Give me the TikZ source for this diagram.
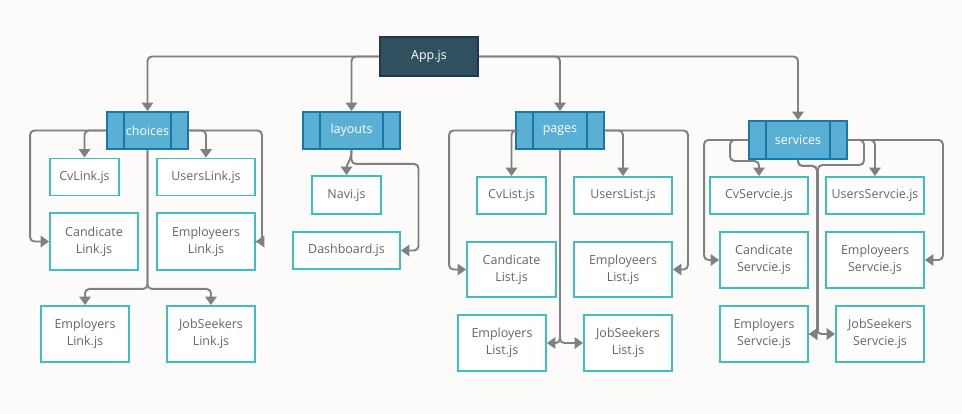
\documentclass[tikz,border=0pt]{standalone}
\usepackage{fontspec}
\setmainfont{Open Sans}
\usetikzlibrary{arrows.meta,positioning,calc}
\definecolor{bgpaper}{HTML}{FCFBF9}
\definecolor{appfill}{HTML}{30505F}
\definecolor{appline}{HTML}{1E3A4A}
\definecolor{catfill}{HTML}{5AAFD5}
\definecolor{catline}{HTML}{1A78A8}
\definecolor{leafline}{HTML}{3DBFBF}
\definecolor{textgray}{HTML}{666666}
\definecolor{wiregray}{HTML}{808080}
\newcommand{\unitpx}{*0.2mm}
\tikzset{leaf/.style={draw=leafline,fill=white,line width=1.1pt,align=center,text=textgray,font=\fontsize{7.1}{9.5}\selectfont,inner sep=0pt,minimum height=37\unitpx}, app/.style={leaf,draw=appline,fill=appfill,text=white,minimum width=98\unitpx,minimum height=39\unitpx}, folder/.style={leaf,draw=catline,fill=catfill,text=white,minimum height=37\unitpx}, divider/.style={draw=catline,line width=1.1pt}, flow/.style={-{Triangle[length=1.7mm,width=2.3mm]},line width=1.1pt,draw=wiregray,rounded corners=2.5pt}}
\begin{document}
\begin{tikzpicture}[x=0.2mm,y=-0.2mm]
\useasboundingbox[fill=bgpaper] (0,0) rectangle (962,414);
% root and folders
\node[app] (app) at (429,56.5) {App.js};
\node[folder,minimum width=81\unitpx] (choices) at (147.5,130.5) {choices};
\node[folder,minimum width=97\unitpx] (layouts) at (351.5,130.5) {layouts};
\node[folder,minimum width=88\unitpx] (pages) at (560,130.5) {pages};
\node[folder,minimum width=98\unitpx,minimum height=38\unitpx] (services) at (798,140) {services};
\foreach \f in {choices,layouts,pages,services}{
  \draw[divider] ([xshift=3.6mm]\f.north west) -- ([xshift=3.6mm]\f.south west);
  \draw[divider] ([xshift=-3.6mm]\f.north east) -- ([xshift=-3.6mm]\f.south east);
}
% choices
\node[leaf,minimum width=69\unitpx] (cvlink) at (84.5,177) {CvLink.js};
\node[leaf,minimum width=98\unitpx] (userslink) at (206,177) {UsersLink.js};
\node[leaf,minimum width=88\unitpx,minimum height=57\unitpx] (candlink) at (94,241.5) {Candicate\\Link.js};
\node[leaf,minimum width=98\unitpx,minimum height=57\unitpx] (emplink) at (206,241.5) {Employeers\\Link.js};
\node[leaf,minimum width=88\unitpx,minimum height=56\unitpx] (empllink) at (85,334) {Employers\\Link.js};
\node[leaf,minimum width=88\unitpx,minimum height=56\unitpx] (jobslink) at (211,334) {JobSeekers\\Link.js};
% layouts
\node[leaf,minimum width=69\unitpx,minimum height=38\unitpx] (navi) at (346.5,195) {Navi.js};
\node[leaf,minimum width=107\unitpx] (dash) at (346.5,250.5) {Dashboard.js};
% pages
\node[leaf,minimum width=69\unitpx] (cvlist) at (511.5,195.5) {CvList.js};
\node[leaf,minimum width=98\unitpx] (userslist) at (623,195.5) {UsersList.js};
\node[leaf,minimum width=89\unitpx,minimum height=55\unitpx] (candlist) at (511.5,269.5) {Candicate\\List.js};
\node[leaf,minimum width=98\unitpx,minimum height=55\unitpx] (emplist) at (623,269.5) {Employeers\\List.js};
\node[leaf,minimum width=88\unitpx,minimum height=56\unitpx] (empllist) at (502,343) {Employers\\List.js};
\node[leaf,minimum width=88\unitpx,minimum height=56\unitpx] (jobslist) at (628,343) {JobSeekers\\List.js};
% services
\node[leaf,minimum width=98\unitpx] (cvserv) at (759,195.5) {CvServcie.js};
\node[leaf,minimum width=98\unitpx] (usersserv) at (875,195.5) {UsersServcie.js};
\node[leaf,minimum width=88\unitpx,minimum height=56\unitpx] (candserv) at (764,260) {Candicate\\Servcie.js};
\node[leaf,minimum width=98\unitpx,minimum height=56\unitpx] (empserv) at (875,260) {Employeers\\Servcie.js};
\node[leaf,minimum width=88\unitpx,minimum height=56\unitpx] (emplserv) at (764,334) {Employers\\Servcie.js};
\node[leaf,minimum width=88\unitpx,minimum height=56\unitpx] (jobsserv) at (880,334) {JobSeekers\\Servcie.js};
% wires from the root
\draw[flow] (app.west) -| (choices.north);
\draw[flow] (app.west) -| (layouts.north);
\draw[flow] (app.east) -| (pages.north);
\draw[flow] (app.east) -| (services.north);
% choices wires
\draw[flow] (choices.west) -- ++(-76,0) |- (candlink.west);
\draw[flow] (choices.west) -| (cvlink.north);
\draw[flow] (choices.east) -| (userslink.north);
\draw[flow] (choices.east) -- ++(73,0) |- (emplink.east);
\draw[flow] (choices.south) -- ++(0,139) -| (empllink.north);
\draw[flow] (choices.south) -- ++(0,139) -| (jobslink.north);
% layouts wires
\draw[flow] (layouts.south) to[out=-90,in=90] (navi.north);
\draw[flow] (layouts.south) -- ++(0,14) -- ++(67,0) |- (dash.east);
% pages wires
\draw[flow] (pages.west) -- ++(-66,0) |- (candlist.west);
\draw[flow] (pages.west) -| (cvlist.north);
\draw[flow] (pages.east) -| (userslist.north);
\draw[flow] (pages.east) -- ++(83,0) |- (emplist.east);
\draw[flow] (pages.south) |- (empllist.east);
\draw[flow] (pages.south) |- (jobslist.west);
% services wires
\draw[flow] (services.west) -- ++(-44,0) |- (candserv.west);
\draw[flow] (services.west) -- ++(-18,0) -- ++(0,21) -| (cvserv.north);
\draw[flow] (services.east) -| (usersserv.north);
\draw[flow] (services.east) -- ++(95,0) |- (empserv.east);
\draw[flow] (services.south) -- ++(0,6) -- ++(19,0) |- (emplserv.east);
\draw[flow] (services.south) -- ++(0,6) -- ++(19,0) |- (jobsserv.west);
\draw[flow] (services.east) -- ++(16,0) -- ++(0,25) -- ++(-46,0) |- (emplserv.east);
\end{tikzpicture}
\end{document}
